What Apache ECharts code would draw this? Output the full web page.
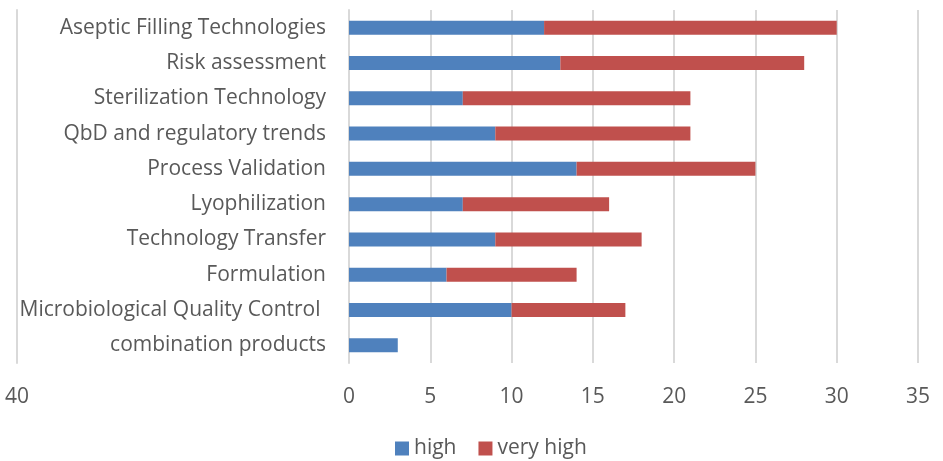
<!DOCTYPE html>
<html><head><meta charset="utf-8">
<script src="https://cdn.jsdelivr.net/npm/echarts@6/dist/echarts.min.js"></script>
<style>html,body{margin:0;padding:0;background:#fff}#c{width:943px;height:461px}</style>
</head><body><div id="c"></div>
<script>
const categories = ["Aseptic Filling Technologies","Risk assessment","Sterilization Technology","QbD and regulatory trends","Process Validation","Lyophilization","Technology Transfer","Formulation","Microbiological Quality Control ","combination products"];
const high = [12,13,7,9,14,7,9,6,10,3];
const veryHigh = [18,15,14,12,11,9,9,8,7,0];
const seriesNames = ["high","very high"];
const extraTick = 40;

const FONT = "Open Sans";
const TXT = "#595959";
const GRID = "#d9d9d9";
const chart = echarts.init(document.getElementById('c'));
chart.setOption({
  animation:false,
  textStyle:{fontFamily:FONT},
  legend:{
    data:seriesNames, left:390, top:433, icon:'rect', itemWidth:14, itemHeight:14, itemGap:22,
    textStyle:{fontSize:21, color:TXT, fontFamily:FONT}
  },
  grid:[
    {left:349, right:25, top:10, bottom:98},
    {left:17, width:0.5, top:10, bottom:98}
  ],
  xAxis:[
    {type:'value', gridIndex:0, min:0, max:35, interval:5,
     axisLine:{show:false}, axisTick:{show:false},
     splitLine:{lineStyle:{color:GRID, width:2}},
     axisLabel:{fontSize:21, color:TXT, margin:24, fontFamily:FONT}},
    {type:'value', gridIndex:1, min:extraTick, max:extraTick+1, interval:1,
     axisLine:{show:false}, axisTick:{show:false}, splitLine:{show:false},
     axisLabel:{fontSize:21, color:TXT, margin:24, fontFamily:FONT, showMaxLabel:false,
       formatter:v=> v===extraTick ? String(v) : ''}}
  ],
  yAxis:[
    {type:'category', gridIndex:0, data:categories, inverse:true,
     axisLine:{show:true, lineStyle:{color:GRID, width:2}}, axisTick:{show:false},
     axisLabel:{fontSize:21, color:TXT, margin:23, fontFamily:FONT}},
    {type:'value', gridIndex:1, axisLine:{show:true, lineStyle:{color:GRID, width:2}},
     axisTick:{show:false}, axisLabel:{show:false}, splitLine:{show:false}}
  ],
  series:[
    {name:seriesNames[0], type:'bar', stack:'s', data:high, barWidth:14, itemStyle:{color:'#4f81bd'}},
    {name:seriesNames[1], type:'bar', stack:'s', data:veryHigh, barWidth:14, itemStyle:{color:'#c0504d'}}
  ]
});
</script></body></html>
